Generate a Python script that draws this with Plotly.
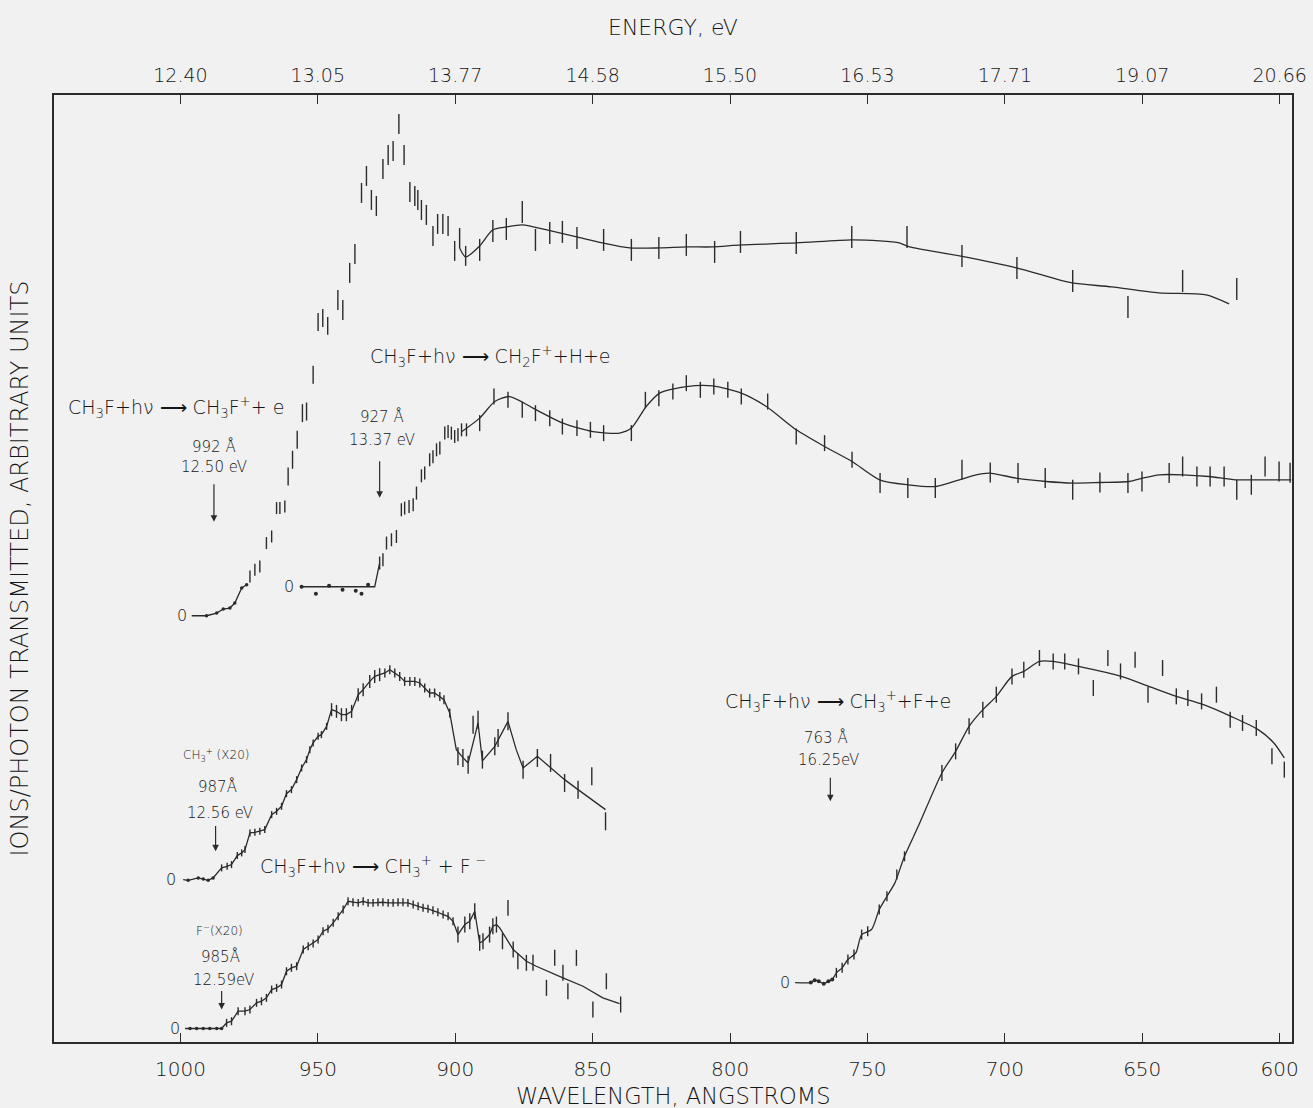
import plotly.graph_objects as go

INK = "#2b2b2b"
TXT = "#161616"
FONT = "DejaVu Sans"
FW = 300
BG = "#f1f1f1"

# ---------------- axes ----------------
wl_ticks = [1000, 950, 900, 850, 800, 750, 700, 650, 600]
energy_labels = ["12.40", "13.05", "13.77", "14.58", "15.50", "16.53", "17.71", "19.07", "20.66"]

# zero level of every trace (arbitrary units on the common ordinate)
offsets = dict(ch3f=42.65, ch2f=45.55, ch3=16.25, fneg=1.35, ch3fe=5.95)

# ---------------- CH3F+ ----------------
ch3f_base_wl = [995.9, 990.5, 986.8, 984.4, 982.0, 980.2, 977.7, 975.9]
ch3f_base_val = [0, 0, 0.27, 0.67, 0.77, 1.27, 2.77, 3.1]
ch3f_wl = [974.7, 972.9, 971.1, 968.7, 966.8, 965.0, 963.8, 962.0, 960.8, 959.2,
           957.5, 955.6, 954.1, 951.7, 949.9, 948.2, 946.4, 942.7, 940.9, 938.4,
           936.5, 934.1, 932.3, 930.5, 928.7, 926.3, 924.4, 922.6, 920.5, 918.6,
           916.5, 914.7, 913.6, 912.3, 910.5, 908.1, 906.4, 904.5, 902.6, 900.2,
           898.4, 896.2, 891.1, 886.3, 881.4, 875.6, 870.8, 865.6, 861.0, 855.7,
           846.0, 835.9, 825.9, 815.9, 805.6, 796.2, 775.9, 755.7, 735.6, 715.6,
           695.6, 675.3, 655.2, 635.3, 615.6]
ch3f_val = [3.93, 4.6, 4.93, 7.27, 7.93, 10.77, 10.77, 10.93, 13.93, 15.6,
            17.6, 20.27, 20.43, 24.1, 29.4, 29.8, 29.0, 31.6, 30.6, 34.3,
            36.2, 42.3, 44.0, 41.6, 41.0, 44.7, 46.1, 46.5, 49.2, 46.1,
            42.4, 42.0, 41.6, 40.6, 40.1, 38.0, 39.2, 39.2, 39.0, 36.5,
            37.8, 36.0, 36.6, 38.5, 38.7, 40.4, 37.6, 38.3, 38.4, 37.8,
            37.6, 36.6, 36.8, 37.1, 36.4, 37.4, 37.3, 37.9, 37.9, 36.0,
            34.8, 33.5, 30.9, 33.5, 32.7]
ch3f_err = [0.6] * 8 + [0.9] * 9 + [1.0] * 25 + [1.1] * 23
ch3f_fit_wl = [898.4, 896.2, 891.1, 886.4, 881.3, 875.5, 866.7, 855.8, 846.4, 836.5,
               825.6, 815.8, 806.4, 795.8, 775.8, 755.8, 745.6, 738.4, 734.7, 716.5,
               695.8, 682.7, 675.5, 661.1, 644.0, 626.7, 618.4]
ch3f_fit_val = [36.8, 35.9, 37.0, 38.6, 38.9, 39.1, 38.6, 37.9, 37.3, 36.8,
                36.8, 36.9, 36.9, 37.1, 37.3, 37.6, 37.5, 37.3, 36.9, 36.0,
                34.8, 33.8, 33.3, 32.9, 32.3, 32.1, 31.2]

# ---------------- CH2F+ ----------------
ch2f_dot_wl = [955.9, 950.7, 945.9, 941.0, 936.2, 934.1, 931.7]
ch2f_dot_val = [0, -0.7, 0.1, -0.3, -0.4, -0.7, 0.2]
ch2f_lead_wl = [955.9, 929.3, 927.5]
ch2f_lead_val = [0, 0, 2.37]
ch2f_wl = [927.5, 926.3, 925.0, 923.2, 921.4, 919.6, 918.4, 916.8, 915.3, 914.1,
           912.3, 911.1, 909.3, 908.1, 906.8, 905.6, 903.8, 902.6, 901.4, 900.2,
           899.0, 897.7, 895.9, 891.1, 885.9, 880.8, 875.6, 870.8, 865.6, 861.0,
           855.7, 850.8, 846.0, 835.9, 830.8, 825.9, 820.8, 815.9, 810.8, 805.9,
           800.8, 795.9, 786.3, 775.9, 765.6, 755.6, 745.4, 735.3, 725.3, 715.6,
           705.3, 695.2, 685.3, 675.3, 665.4, 655.2, 650.1, 640.2, 635.3, 630.1,
           625.3, 620.2, 615.6, 610.3, 605.3, 600.2, 596.2]
ch2f_val = [2.37, 2.7, 4.37, 4.7, 5.03, 7.7, 7.87, 8.03, 8.2, 9.37,
            11.1, 11.37, 12.7, 13.0, 13.7, 13.87, 15.37, 15.53, 15.37, 15.03,
            15.2, 15.7, 15.7, 16.37, 19.03, 18.7, 17.7, 17.37, 16.87, 16.03,
            15.87, 15.7, 15.37, 15.37, 18.7, 18.87, 19.53, 20.37, 19.7, 20.03,
            19.7, 19.03, 18.53, 15.03, 14.37, 12.7, 10.37, 9.87, 9.87, 11.7,
            11.43, 11.37, 10.87, 9.7, 10.43, 10.37, 10.53, 11.37, 12.03, 11.03,
            11.03, 11.03, 9.7, 10.2, 12.03, 11.53, 11.4]
ch2f_err = [0.65] * 23 + [0.8] * 23 + [1.0] * 21
ch2f_fit_wl = [897.7, 891.1, 885.6, 880.2, 870.5, 860.8, 849.9, 840.2, 835.9, 830.5,
               825.6, 815.9, 806.3, 795.9, 786.8, 775.9, 765.6, 755.6, 745.6, 735.3,
               725.0, 716.5, 710.5, 705.6, 695.9, 685.0, 675.3, 665.6, 654.7, 649.9,
               643.8, 635.3, 625.6, 616.0, 605.0, 595.8]
ch2f_fit_val = [15.5, 16.87, 18.53, 19.03, 17.7, 16.37, 15.53, 15.37, 15.87, 18.03,
                19.37, 20.03, 20.1, 19.37, 18.03, 15.7, 14.03, 12.53, 10.7, 10.2,
                10.03, 10.7, 11.2, 11.37, 10.87, 10.53, 10.37, 10.43, 10.53, 10.87,
                11.2, 11.2, 11.03, 10.7, 10.7, 10.7]

# ---------------- CH3+ (x20), ion pair ----------------
ch3_wl = [999.0, 997.2, 993.5, 991.7, 989.9, 988.1, 985.0, 983.0, 981.4, 979.3,
          977.7, 976.5, 974.7, 972.9, 971.1, 969.3, 966.8, 965.0, 963.2, 961.4,
          959.6, 957.7, 955.9, 954.1, 952.9, 951.7, 949.9, 948.7, 946.8, 945.0,
          943.2, 941.4, 939.6, 937.7, 935.3, 933.5, 931.1, 929.3, 927.5, 925.6,
          923.8, 922.0, 920.2, 918.4, 916.5, 914.7, 912.9, 911.1, 909.3, 907.5,
          905.6, 904.1, 902.0, 899.6, 897.2, 895.3, 891.7, 890.1, 885.6, 880.8,
          877.8, 875.3, 870.1, 860.2, 855.3, 845.3]
ch3_val = [0, -0.07, 0.17, 0.07, -0.07, 0.17, 1.17, 1.33, 1.5, 2.4,
           2.67, 3.0, 4.67, 4.73, 4.83, 5.0, 6.5, 6.83, 7.33, 8.6,
           9.0, 10.0, 11.17, 12.0, 13.0, 13.67, 14.33, 14.5, 15.33, 17.0,
           16.83, 16.5, 16.5, 16.83, 18.5, 19.0, 19.83, 20.33, 20.5, 20.67,
           21.0, 20.67, 20.33, 19.83, 19.83, 19.83, 19.67, 19.17, 18.67, 18.67,
           18.33, 18.0, 16.67, 13.0, 12.2, 11.67, 15.67, 11.87, 13.33, 15.83,
           13.0, 11.17, 12.33, 10.0, 9.0, 7.0]
ch3_bar_wl = [899.0, 897.2, 895.3, 893.5, 891.7, 890.1, 885.6, 884.4, 880.8, 875.3,
              870.1, 865.3, 860.2, 855.3, 850.3, 845.3]
ch3_bar_val = [12.33, 12.17, 11.5, 15.5, 16.0, 12.0, 13.33, 14.17, 15.83, 11.0,
               12.17, 11.67, 9.67, 9.0, 10.33, 5.83]

# ---------------- F- (x20) ----------------
fneg_wl = [998.3, 996.5, 994.1, 991.7, 989.3, 986.8, 985.0, 983.2, 981.4, 979.0, 976.5,
           974.7, 972.3, 970.5, 968.7, 966.8, 965.0, 963.2, 961.4, 959.6, 957.7,
           955.3, 953.5, 951.7, 949.9, 948.1, 946.3, 944.4, 942.6, 940.8, 939.0,
           937.2, 935.3, 933.5, 931.7, 929.9, 928.1, 926.3, 924.4, 922.6, 920.8,
           919.0, 917.2, 915.3, 913.5, 911.7, 909.9, 908.1, 906.3, 904.4, 902.6,
           900.8, 899.0, 896.5, 894.7, 892.9, 891.1, 889.9, 887.5, 886.3, 885.0,
           882.8, 880.8, 878.9, 877.2, 874.1, 871.7, 866.8, 863.8, 860.8, 859.0,
           855.9, 849.9, 845.0, 839.8]
fneg_val = [0, 0, 0, 0, 0, 0, 0, 0.57, 0.73, 1.73, 1.73,
            1.9, 2.57, 2.73, 3.07, 3.9, 4.07, 4.4, 5.73, 6.07, 6.23,
            7.9, 8.23, 8.5, 8.9, 9.73, 9.97, 10.57, 11.23, 11.9, 12.73,
            12.63, 12.57, 12.73, 12.57, 12.57, 12.63, 12.63, 12.57, 12.57, 12.63,
            12.63, 12.57, 12.4, 12.23, 12.07, 11.97, 11.83, 11.63, 11.4, 11.23,
            10.73, 9.4, 10.4, 10.73, 11.73, 8.57, 8.73, 9.4, 10.23, 10.4,
            8.73, 12.07, 7.9, 6.73, 6.57, 6.57, 4.07, 7.07, 5.57, 3.73,
            7.07, 1.9, 4.73, 2.4]
fneg_err = [0.4] * 45 + [0.8] * 23
fneg_fit_wl = [883.8, 878.9, 874.1, 870.5, 860.8, 853.5, 846.3, 840.2]
fneg_fit_val = [10.07, 7.9, 6.73, 6.23, 5.07, 4.23, 3.07, 2.5]

# ---------------- CH3+ + F + e ----------------
ch3fe_wl = [776.3, 770.6, 769.2, 767.7, 765.9, 764.2, 762.8, 761.3, 759.2, 757.1,
            754.2, 752.1, 748.5, 745.7, 742.9, 740.0, 736.5, 731.5, 722.9, 717.9,
            713.0, 708.0, 703.1, 697.4, 693.1, 687.4, 682.4, 673.2, 657.6, 647.6,
            637.6, 627.7, 617.7, 607.8, 602.1, 598.3]
ch3fe_val = [0, 0, 0.23, 0.13, -0.13, 0.13, 0.3, 0.97, 1.47, 2.3,
             2.97, 4.8, 5.3, 7.3, 8.63, 9.97, 12.63, 15.63, 20.97, 23.13,
             25.63, 27.3, 28.63, 30.63, 31.13, 32.13, 32.13, 31.63, 30.63, 29.63,
             28.63, 27.8, 26.63, 25.3, 23.97, 22.47]
ch3fe_bar_wl = [761.3, 759.2, 757.1, 754.9, 752.1, 749.9, 745.7, 742.9, 739.3, 736.5,
                722.9, 717.9, 713.0, 708.0, 703.1, 697.4, 693.1, 687.4, 682.4, 678.2,
                673.2, 667.8, 662.5, 657.9, 652.6, 647.9, 642.6, 637.6, 633.4, 628.4,
                623.0, 618.0, 613.5, 608.5, 602.8, 598.3]
ch3fe_bar_val = [0.97, 1.47, 2.3, 2.8, 4.8, 5.13, 7.3, 8.63, 10.8, 12.63,
                 20.97, 23.13, 25.63, 27.3, 28.8, 30.63, 31.3, 32.47, 32.13, 32.13,
                 31.63, 29.47, 32.47, 31.13, 32.3, 28.8, 31.47, 28.63, 28.47, 28.13,
                 28.8, 26.3, 25.97, 25.47, 22.63, 21.3]
ch3fe_err = [0.5] * 10 + [0.8] * 26


def sh(vals, key):
    return [v + offsets[key] for v in vals]


fig = go.Figure()


def line(x, y, shape="linear"):
    fig.add_trace(go.Scatter(x=x, y=y, mode="lines", line=dict(color=INK, width=1.3, shape=shape, smoothing=0.7),
                             hoverinfo="skip", showlegend=False))


def dots(x, y, size=4):
    fig.add_trace(go.Scatter(x=x, y=y, mode="markers", marker=dict(color=INK, size=size),
                             hoverinfo="skip", showlegend=False))


def bars(x, y, err):
    fig.add_trace(go.Scatter(x=x, y=y, mode="markers",
                             marker=dict(size=1, color="rgba(0,0,0,0)"),
                             error_y=dict(type="data", array=err, symmetric=True, visible=True,
                                          width=0, thickness=1.4, color=INK),
                             hoverinfo="skip", showlegend=False))


# CH3F+
line(ch3f_base_wl, sh(ch3f_base_val, "ch3f"))
dots(ch3f_base_wl[1:], sh(ch3f_base_val[1:], "ch3f"), 3.5)
bars(ch3f_wl, sh(ch3f_val, "ch3f"), ch3f_err)
line(ch3f_fit_wl, sh(ch3f_fit_val, "ch3f"), "spline")

# CH2F+
line(ch2f_lead_wl, sh(ch2f_lead_val, "ch2f"))
dots(ch2f_dot_wl, sh(ch2f_dot_val, "ch2f"), 4)
bars(ch2f_wl, sh(ch2f_val, "ch2f"), ch2f_err)
line(ch2f_fit_wl, sh(ch2f_fit_val, "ch2f"), "spline")

# CH3+ (x20)
line(ch3_wl, sh(ch3_val, "ch3"))
dots(ch3_wl[1:6], sh(ch3_val[1:6], "ch3"), 3.5)
bars(ch3_wl[6:53], sh(ch3_val[6:53], "ch3"), [0.35] * 23 + [0.65] * 10 + [0.45] * 14)
bars(ch3_bar_wl, sh(ch3_bar_val, "ch3"), [0.9] * len(ch3_bar_wl))

# F- (x20)
line(fneg_wl[:61] + fneg_fit_wl, sh(fneg_val[:61] + fneg_fit_val, "fneg"))
dots(fneg_wl[1:7], sh(fneg_val[1:7], "fneg"), 3.5)
bars(fneg_wl[7:], sh(fneg_val[7:], "fneg"), fneg_err)

# CH3+ + F + e
line(ch3fe_wl, sh(ch3fe_val, "ch3fe"), "spline")
dots(ch3fe_wl[1:7], sh(ch3fe_val[1:7], "ch3fe"), 4)
bars(ch3fe_bar_wl, sh(ch3fe_bar_val, "ch3fe"), ch3fe_err)

# dummy trace for the energy axis
fig.add_trace(go.Scatter(x=[wl_ticks[0]], y=[0], xaxis="x2", mode="markers",
                         marker=dict(opacity=0), hoverinfo="skip", showlegend=False))

ann = []


def fnt(size):
    return dict(size=size, color=TXT, family=FONT, weight=FW)


def text(x, y, s, size=19, anchor="left"):
    ann.append(dict(x=x, y=y, xref="x", yref="y", text=s, showarrow=False, xanchor=anchor,
                    yanchor="middle", font=fnt(size)))


def arrow(x, y0, y1):
    ann.append(dict(x=x, y=y1, ax=x, ay=y0, xref="x", yref="y", axref="x", ayref="y", text="",
                    showarrow=True, arrowhead=2, arrowsize=1.1, arrowwidth=1.2, arrowcolor=INK))


def zero(x, y, dx):
    ann.append(dict(x=x, y=y, xref="x", yref="y", text="0", showarrow=False, xanchor="right",
                    yanchor="middle", xshift=dx, font=fnt(16)))


R = "CH<sub>3</sub>F+hν ⟶ "
text(1041.6, 63.45, R + "CH<sub>3</sub>F<sup>+</sup>+ e")
text(987.8, 59.58, "992 Å", 15, "center")
text(987.8, 57.58, "12.50 eV", 15, "center")
arrow(987.8, 55.95, 52.05)

text(931.8, 68.58, R + "CH<sub>2</sub>F<sup>+</sup>+H+e")
text(926.7, 62.58, "927 Å", 15, "center")
text(926.7, 60.25, "13.37 eV", 15, "center")
arrow(927.5, 58.25, 54.45)

text(987.1, 28.75, "CH<sub>3</sub><sup>+</sup> (X20)", 12, "center")
text(986.4, 25.58, "987Å", 15, "center")
text(985.6, 22.92, "12.56 eV", 15, "center")
arrow(987.2, 21.75, 19.08)
text(971.8, 17.58, R + "CH<sub>3</sub><sup>+</sup> + F<sup> −</sup>")

text(985.6, 11.25, "F<sup>−</sup>(X20)", 12, "center")
text(985.3, 8.52, "985Å", 15, "center")
text(984.2, 6.25, "12.59eV", 15, "center")
arrow(985.0, 5.25, 3.25)

text(802.5, 34.08, R + "CH<sub>3</sub><sup>+</sup>+F+e")
text(764.9, 30.42, "763 Å", 15, "center")
text(764.2, 28.25, "16.25eV", 15, "center")
arrow(763.5, 26.58, 24.08)

zero(ch3f_base_wl[0], offsets["ch3f"], -3)
zero(ch2f_lead_wl[0], offsets["ch2f"], -6)
zero(ch3_wl[0], offsets["ch3"], -5)
zero(fneg_wl[0], offsets["fneg"], -3)
zero(ch3fe_wl[0], offsets["ch3fe"], -3)

ann.append(dict(x=0.5, y=-0.0575, xref="paper", yref="paper", text="WAVELENGTH, ANGSTROMS",
                showarrow=False, xanchor="center", yanchor="middle", font=fnt(22.5)))
ann.append(dict(x=0.5, y=1.0718, xref="paper", yref="paper", text="ENERGY, eV",
                showarrow=False, xanchor="center", yanchor="middle", font=fnt(22)))
ann.append(dict(x=-0.0275, y=0.5, xref="paper", yref="paper",
                text="IONS/PHOTON TRANSMITTED, ARBITRARY UNITS", textangle=-90,
                showarrow=False, xanchor="center", yanchor="middle", font=fnt(24)))

xrange = [1046, 595.5]
fig.update_layout(
    width=1313, height=1108,
    margin=dict(l=54, r=21, t=95, b=66),
    paper_bgcolor=BG, plot_bgcolor=BG,
    font=dict(family=FONT, color=TXT),
    showlegend=False,
    annotations=ann,
    xaxis=dict(range=xrange, tickvals=wl_ticks, ticktext=[str(t) for t in wl_ticks],
               ticks="inside", ticklen=9, tickwidth=1.3, tickcolor=INK,
               showline=True, linecolor=INK, linewidth=1.5, mirror=True,
               showgrid=False, zeroline=False, tickfont=fnt(20),
               ticklabelstandoff=8, automargin=False),
    xaxis2=dict(range=xrange, overlaying="x", side="top", tickvals=wl_ticks, ticktext=energy_labels,
                ticks="inside", ticklen=9, tickwidth=1.3, tickcolor=INK, showline=False,
                showgrid=False, zeroline=False, tickfont=fnt(19),
                ticklabelstandoff=8, automargin=False),
    yaxis=dict(range=[0, 94.75], showline=True, linecolor=INK, linewidth=1.5, mirror=True,
               ticks="", showticklabels=False, showgrid=False, zeroline=False, automargin=False),
)

fig.write_html("out.html")
